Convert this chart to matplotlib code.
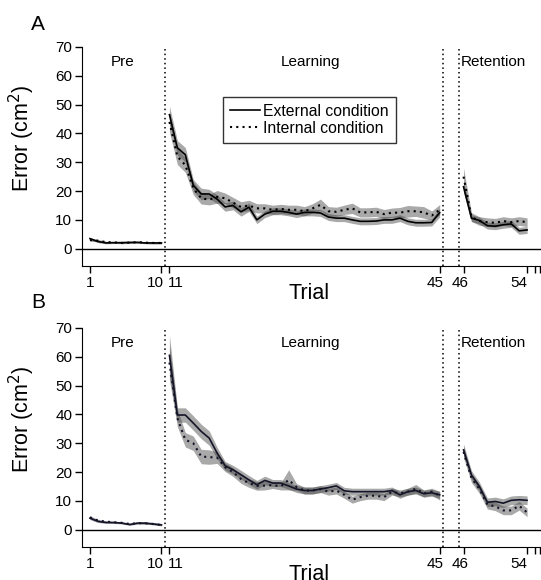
import numpy as np
import matplotlib
matplotlib.use('Agg')
import matplotlib.pyplot as plt
from matplotlib.transforms import ScaledTranslation

plt.rcParams['font.family'] = ['Liberation Sans', 'DejaVu Sans']

# === Données ===
trials = np.arange(1, 55)
tick_trials = [1, 10, 11, 45, 46, 54]

# Panneau A
a_ext = [3.5, 2.5, 2.0, 2.1, 2.1, 2.2, 2.2, 2.0, 2.0, 2.0,
         46.5, 35.0, 32.6, 22.0, 19.0, 19.0, 17.2, 14.5, 15.0, 12.8,
         14.4, 10.0, 12.0, 13.0, 13.0, 12.6, 12.0, 12.6, 12.6, 12.4,
         11.0, 10.6, 10.6, 10.0, 9.5, 9.5, 9.6, 10.0, 10.0, 10.6,
         9.5, 9.0, 9.0, 9.1, 12.5,
         21.5, 10.6, 9.8, 8.0, 7.8, 8.3, 8.6, 6.2, 6.5]
a_int = [3.0, 2.8, 2.3, 2.2, 2.0, 2.1, 2.3, 2.1, 2.0, 2.0,
         44.0, 32.0, 29.0, 21.0, 17.5, 17.0, 18.0, 17.5, 16.0, 14.5,
         15.0, 14.0, 14.0, 13.5, 13.8, 13.5, 13.5, 13.0, 14.0, 15.2,
         13.0, 12.8, 13.5, 14.0, 12.6, 12.6, 12.8, 12.0, 12.5, 12.5,
         13.0, 13.0, 12.6, 11.5, 13.5,
         25.0, 11.0, 9.6, 9.2, 9.0, 9.6, 9.2, 9.6, 9.2]
a_ext_se = [0.4, 0.4, 0.3, 0.3, 0.3, 0.3, 0.3, 0.3, 0.3, 0.3,
            3.0, 2.5, 2.5, 2.0, 2.0, 1.6, 1.5, 1.5, 1.5, 1.5,
            1.5, 1.3, 1.2, 1.2, 1.2, 1.2, 1.2, 1.2, 1.2, 1.2,
            1.2, 1.2, 1.2, 1.2, 1.2, 1.2, 1.2, 1.2, 1.2, 1.2,
            1.2, 1.2, 1.2, 1.2, 1.5,
            2.0, 1.2, 1.2, 1.2, 1.2, 1.2, 1.2, 1.2, 1.2]
a_int_se = [0.4, 0.4, 0.3, 0.3, 0.3, 0.3, 0.3, 0.3, 0.3, 0.3,
            3.5, 2.8, 2.5, 2.2, 2.0, 1.8, 2.2, 1.8, 1.8, 1.8,
            1.8, 1.6, 1.6, 1.6, 1.6, 1.6, 1.6, 1.6, 1.6, 2.0,
            1.6, 1.6, 1.6, 1.8, 1.6, 1.6, 1.6, 1.6, 1.6, 1.8,
            2.0, 1.8, 2.0, 1.6, 1.8,
            3.0, 1.5, 1.5, 1.5, 1.5, 1.5, 1.5, 1.5, 1.5]

# Panneau B
b_ext = [4.0, 2.9, 2.5, 2.5, 2.3, 1.8, 2.3, 2.3, 2.0, 1.7,
         60.5, 39.8, 39.8, 37.0, 34.1, 31.8, 26.6, 22.2, 20.8, 19.1,
         17.3, 15.6, 17.1, 16.2, 16.2, 15.2, 14.1, 13.6, 13.6, 14.1,
         14.6, 15.2, 13.5, 13.2, 13.2, 13.2, 13.2, 13.2, 13.6, 12.1,
         13.2, 13.6, 12.5, 12.8, 12.1,
         27.7, 19.0, 15.0, 9.5, 9.8, 9.2, 10.2, 10.4, 10.2]
b_int = [4.3, 3.2, 2.8, 2.6, 2.4, 2.0, 2.3, 2.2, 2.0, 1.6,
         58.0, 38.7, 31.2, 30.0, 25.4, 25.2, 25.0, 21.7, 20.0, 17.6,
         16.2, 15.2, 15.3, 15.5, 15.0, 17.3, 14.8, 13.6, 13.6, 14.1,
         13.2, 13.6, 12.1, 10.4, 11.3, 11.8, 11.8, 11.3, 13.2, 12.6,
         13.2, 14.2, 12.6, 13.2, 11.8,
         27.0, 17.9, 14.1, 8.7, 8.1, 6.7, 6.7, 8.3, 6.0]
b_ext_se = [0.5, 0.4, 0.3, 0.3, 0.3, 0.3, 0.3, 0.3, 0.3, 0.3,
            7.0, 2.5, 2.5, 2.5, 2.5, 2.5, 2.0, 1.5, 1.5, 1.5,
            1.5, 1.5, 1.5, 1.2, 1.2, 1.2, 1.2, 1.2, 1.2, 1.2,
            1.2, 1.2, 1.2, 1.2, 1.2, 1.2, 1.2, 1.2, 1.2, 1.2,
            1.2, 1.2, 1.2, 1.2, 1.2,
            2.0, 1.5, 1.5, 1.5, 1.5, 1.5, 1.5, 1.5, 1.5]
b_int_se = [0.5, 0.4, 0.3, 0.3, 0.3, 0.3, 0.3, 0.3, 0.3, 0.3,
            6.0, 3.0, 2.5, 2.5, 2.5, 2.5, 2.0, 1.5, 1.5, 1.5,
            1.5, 1.5, 1.5, 1.2, 1.2, 3.5, 1.2, 1.2, 1.2, 1.2,
            1.2, 1.2, 1.2, 1.2, 1.2, 1.2, 1.2, 1.2, 1.2, 1.2,
            1.2, 1.5, 1.2, 1.2, 1.5,
            2.0, 1.5, 1.5, 1.5, 1.5, 1.5, 1.5, 1.5, 1.5]

phases = ['Pre', 'Learning', 'Retention']
phase_x = [5.15, 28.7, 51.7]


def pos(t):
    # décalage de 2 entre apprentissage et rétention
    t = np.asarray(t)
    return np.where(t >= 46, t + 2, t)


segments = [(0, 10), (10, 45), (45, 54)]

# alignement des étiquettes de l'axe x (ha, décalage en px)
label_align = [('center', 0), ('right', 2), ('left', -2),
               ('center', -5), ('center', -3), ('right', 0)]


def draw_panel(fig, ax, ext, ext_se, inte, int_se, col, legend=False):
    ext = np.array(ext); ext_se = np.array(ext_se)
    inte = np.array(inte); int_se = np.array(int_se)
    x = pos(trials)
    for s, e in segments:
        ax.fill_between(x[s:e], (ext - ext_se)[s:e], (ext + ext_se)[s:e],
                        color='#404040', alpha=0.45, lw=0)
        ax.fill_between(x[s:e], (inte - int_se)[s:e], (inte + int_se)[s:e],
                        color='#404040', alpha=0.45, lw=0)
    for i, (s, e) in enumerate(segments):
        ax.plot(x[s:e], ext[s:e], color=col, lw=1.2,
                label='External condition' if i == 0 else None)
        ax.plot(x[s:e], inte[s:e], color=col, lw=1.5, ls=(0, (1, 2)),
                label='Internal condition' if i == 0 else None)

    ax.axhline(0, color='black', lw=1)
    for xv in [10.5, 45.4, 47.4]:
        ax.axvline(xv, color='black', lw=1.1, ls=(0, (1, 2)))

    for name, xp in zip(phases, phase_x):
        ax.text(xp, 64.8, name, ha='center', va='center', fontsize=11)

    ax.set_xlim(0, 57.75)
    ax.set_ylim(-6, 70)
    ax.set_yticks(range(0, 71, 10))
    ticks = list(pos(tick_trials)) + [57, 57.6]
    ax.set_xticks(ticks)
    ax.set_xticklabels([str(t) for t in tick_trials] + ['', ''])
    ax.tick_params(direction='out', length=5, width=1, labelsize=11, pad=2)
    for lab, (ha, dx) in zip(ax.get_xticklabels(), label_align):
        lab.set_ha(ha)
        lab.set_transform(lab.get_transform() +
                          ScaledTranslation(dx / 100, 0, fig.dpi_scale_trans))
    ax.spines['top'].set_visible(False)
    ax.spines['right'].set_visible(False)
    ax.set_ylabel('Error (cm$^2$)', fontsize=15.5, va='center', ha='center')
    ax.yaxis.set_label_coords(-0.131, 0.585)
    ax.set_xlabel('Trial', fontsize=15.5)
    ax.xaxis.set_label_coords(0.495, -0.125)
    ax.xaxis.label.set_va('center')

    if legend:
        leg = ax.legend(loc='upper left', bbox_to_anchor=(0.307, 0.772),
                        fontsize=11.3, frameon=True, fancybox=False,
                        edgecolor='black', handlelength=1.9, handletextpad=0.2,
                        borderpad=0.45, labelspacing=0.1, borderaxespad=0)
        leg.get_frame().set_linewidth(1)


fig = plt.figure(figsize=(5.41, 5.8), dpi=100)
ax1 = fig.add_axes([0.1516, 0.5414, 0.8484, 0.3776])
ax2 = fig.add_axes([0.1516, 0.0569, 0.8484, 0.3776])

draw_panel(fig, ax1, a_ext, a_ext_se, a_int, a_int_se, 'black', legend=True)
draw_panel(fig, ax2, b_ext, b_ext_se, b_int, b_int_se, '#141428')

fig.text(38 / 541, 1 - 25 / 580, 'A', fontsize=15, ha='center', va='center')
fig.text(38 / 541, 1 - 303 / 580, 'B', fontsize=15, ha='center', va='center')

fig.savefig('out.png', dpi=100)
